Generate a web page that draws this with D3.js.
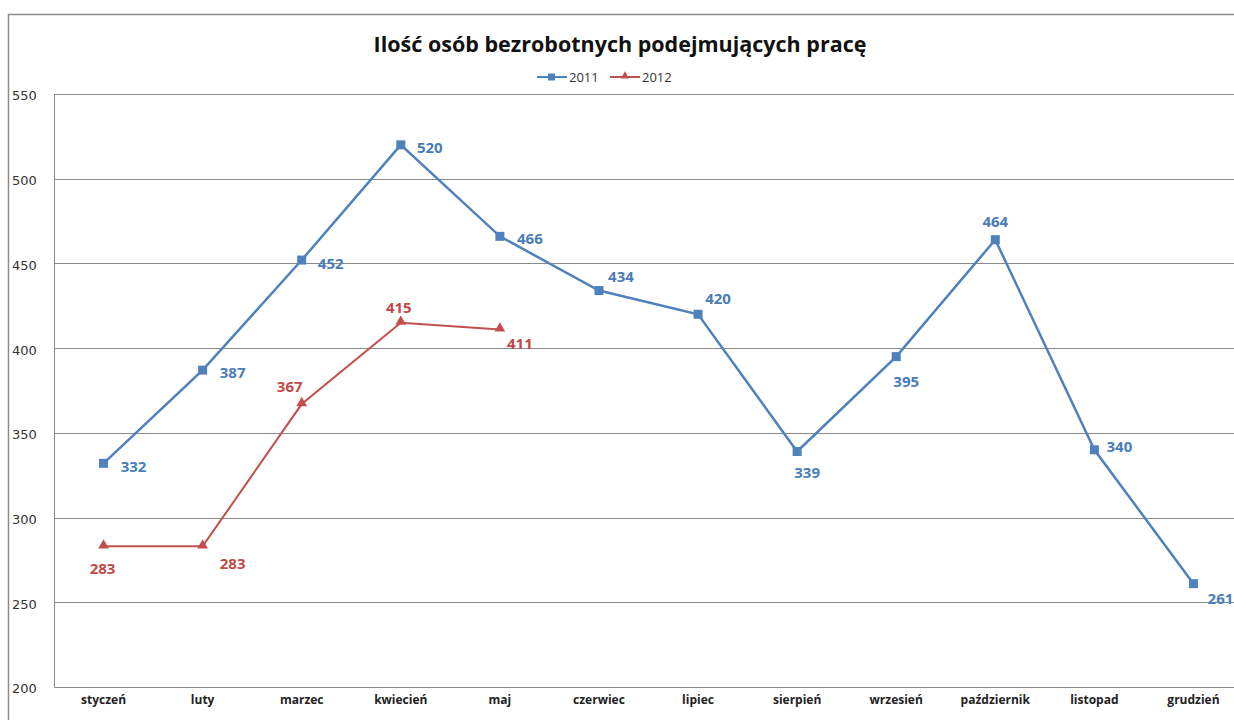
<!DOCTYPE html>
<html>
<head>
<meta charset="utf-8">
<script src="https://cdn.jsdelivr.net/npm/d3@7"></script>
<style>
  body { margin: 0; background: #fff; }
  #chart { width: 1234px; height: 720px; }
  text { font-family: "Open Sans", Lato, sans-serif; }
</style>
</head>
<body>
<div id="chart"></div>
<script>
const months = ["styczeń", "luty", "marzec", "kwiecień", "maj", "czerwiec", "lipiec", "sierpień", "wrzesień", "październik", "listopad", "grudzień"];
const values2011 = [332, 387, 452, 520, 466, 434, 420, 339, 395, 464, 340, 261];
const values2012 = [283, 283, 367, 415, 411];
const yTicks = [200, 250, 300, 350, 400, 450, 500, 550];

// label offsets (dx, dy) relative to each point, as placed in the original
const offsets2011 = [[30, 3], [30, 2], [29, 3], [29, 2], [30, 2], [22, -15], [20, -16], [10, 21], [10, 24], [0, -19], [25, -4], [27, 14]];
const offsets2012 = [[-1, 22], [30, 17], [-12, -18], [-2, -16], [20, 13]];

const width = 1234, height = 720;
const margin = { top: 94, right: -9, bottom: 33, left: 54 };
const blue = "#4F81BD", red = "#C0504D";

const svg = d3.select("#chart").append("svg")
  .attr("width", width)
  .attr("height", height);

// outer chart border
svg.append("rect")
  .attr("x", 8.5).attr("y", 14.5)
  .attr("width", width + 10).attr("height", height + 10)
  .attr("fill", "none")
  .attr("stroke", "#8c8c8c")
  .attr("stroke-width", 1.5);

const x = d3.scaleBand()
  .domain(months)
  .range([margin.left, width - margin.right])
  .padding(0);

const y = d3.scaleLinear()
  .domain([200, 550])
  .range([height - margin.bottom, margin.top]);

const cx = d => x(d) + x.bandwidth() / 2;

// gridlines
svg.append("g")
  .selectAll("line")
  .data(yTicks.slice(1))
  .join("line")
  .attr("x1", margin.left).attr("x2", width)
  .attr("y1", d => Math.round(y(d)) + 0.5).attr("y2", d => Math.round(y(d)) + 0.5)
  .attr("stroke", "#8a8a8a")
  .attr("stroke-width", 1);

// y axis
const yAxis = svg.append("g")
  .attr("transform", `translate(${margin.left},0)`)
  .call(d3.axisLeft(y).tickValues(yTicks).tickSize(0).tickFormat(d3.format("d")));
yAxis.select(".domain").attr("stroke", "#8a8a8a");
yAxis.selectAll("text")
  .attr("x", -42)
  .attr("dy", "0.45em")
  .attr("text-anchor", "start")
  .style("font-family", "'DejaVu Sans', sans-serif")
  .style("font-size", "13px")
  .style("fill", "#333");

// x axis
const xAxis = svg.append("g")
  .attr("transform", `translate(0,${height - margin.bottom})`)
  .call(d3.axisBottom(x).tickSize(0).tickSizeOuter(0));
xAxis.select(".domain").attr("stroke", "#8a8a8a");
xAxis.selectAll("text")
  .attr("dy", "1.15em")
  .style("font-size", "12px")
  .style("font-weight", "bold")
  .style("fill", "#222");

const line = d3.line()
  .x((d, i) => cx(months[i]))
  .y(d => y(d));

// 2011 series
svg.append("path")
  .datum(values2011)
  .attr("fill", "none")
  .attr("stroke", blue)
  .attr("stroke-width", 2.5)
  .attr("d", line);

svg.append("g")
  .selectAll("rect")
  .data(values2011)
  .join("rect")
  .attr("x", (d, i) => cx(months[i]) - 4.5)
  .attr("y", d => y(d) - 4.5)
  .attr("width", 9).attr("height", 9)
  .attr("fill", blue);

svg.append("g")
  .selectAll("text")
  .data(values2011)
  .join("text")
  .attr("x", (d, i) => cx(months[i]) + offsets2011[i][0])
  .attr("y", (d, i) => y(d) + offsets2011[i][1])
  .attr("text-anchor", "middle")
  .attr("dominant-baseline", "central")
  .style("font-size", "15px")
  .style("font-weight", "bold")
  .style("fill", "#4A7DBA")
  .text(d => d);

// 2012 series
svg.append("path")
  .datum(values2012)
  .attr("fill", "none")
  .attr("stroke", red)
  .attr("stroke-width", 2)
  .attr("d", line);

const tri = d3.symbol().type(d3.symbolTriangle).size(50);
svg.append("g")
  .selectAll("path")
  .data(values2012)
  .join("path")
  .attr("transform", (d, i) => `translate(${cx(months[i])},${y(d) - 1})`)
  .attr("d", tri)
  .attr("fill", red);

svg.append("g")
  .selectAll("text")
  .data(values2012)
  .join("text")
  .attr("x", (d, i) => cx(months[i]) + offsets2012[i][0])
  .attr("y", (d, i) => y(d) + offsets2012[i][1])
  .attr("text-anchor", "middle")
  .attr("dominant-baseline", "central")
  .style("font-size", "15px")
  .style("font-weight", "bold")
  .style("fill", "#BE4B48")
  .text(d => d);

// title
svg.append("text")
  .attr("x", 620)
  .attr("y", 52)
  .attr("text-anchor", "middle")
  .style("font-size", "21.5px")
  .style("font-weight", "bold")
  .style("fill", "#111")
  .text("Ilość osób bezrobotnych podejmujących pracę");

// legend
const legend = svg.append("g").attr("transform", "translate(537,77)");
const legendItems = [
  { name: "2011", color: blue, marker: "square" },
  { name: "2012", color: red, marker: "triangle" }
];
legendItems.forEach((item, i) => {
  const g = legend.append("g").attr("transform", `translate(${i * 73},0)`);
  g.append("line")
    .attr("x1", 0).attr("x2", 30)
    .attr("y1", 0).attr("y2", 0)
    .attr("stroke", item.color)
    .attr("stroke-width", 2);
  if (item.marker === "square") {
    g.append("rect").attr("x", 11).attr("y", -3.5).attr("width", 7).attr("height", 7).attr("fill", item.color);
  } else {
    g.append("path").attr("transform", "translate(15,-1)")
      .attr("d", d3.symbol().type(d3.symbolTriangle).size(30)).attr("fill", item.color);
  }
  g.append("text")
    .attr("x", 32).attr("y", 0)
    .attr("dominant-baseline", "central")
    .style("font-size", "13px")
    .style("fill", "#333")
    .text(item.name);
});
</script>
</body>
</html>
